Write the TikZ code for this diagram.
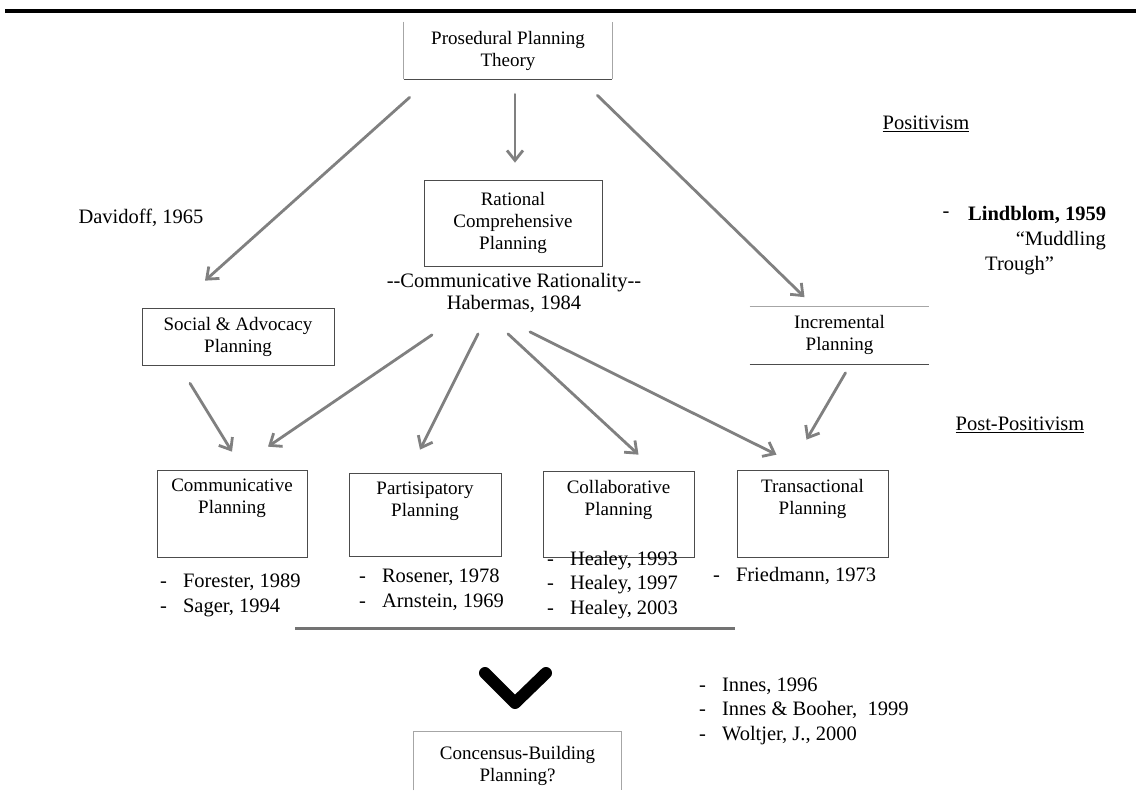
\documentclass[tikz,border=0pt]{standalone}
\usepackage{fontspec}
\setmainfont{Liberation Serif}
\usetikzlibrary{positioning,arrows.meta}

\newcommand{\boxfont}{\fontsize{19}{22}\selectfont}
\newcommand{\listfont}{\fontsize{20.5}{24.5}\selectfont}

\begin{document}
\begin{tikzpicture}[x=1pt,y=-1pt]

\tikzstyle{plbox}=[draw=black!70, line width=0.7pt, inner sep=0pt, align=center, font=\boxfont]
\tikzstyle{openbox}=[plbox, draw=none]
\tikzstyle{lowbox}=[plbox, minimum width=151pt, minimum height=87pt]
\tikzstyle{lowtext}=[anchor=north, inner sep=0pt, yshift=-9pt, align=center, font=\boxfont]
\tikzstyle{lightedge}=[draw=black!35, line width=0.7pt]
\tikzstyle{darkedge}=[draw=black!70, line width=0.7pt]
\tikzstyle{txt}=[inner sep=0pt, font=\listfont]
\tikzstyle{arr}=[draw=black!50, line width=2.8pt, line cap=round,
  -{Straight Barb[length=10pt,width=16pt]}]

\newcommand{\plbox}[3]{node (#1) [#2] {#3}}
\newcommand{\lowbox}[3]{node (#1) [lowbox, #2, label={[lowtext]north:#3}] {}}
\newcommand{\reflist}[1]{\begin{tabular}{@{}l@{\hspace{16pt}}l@{}}#1\end{tabular}}

\useasboundingbox (0,0) rectangle (1136,805);
\fill[white] (0,0) rectangle (1136,805);
\draw[line width=4pt] (5,11) -- (1136,11);

\path (508,50.5) \plbox{pros}{openbox, minimum width=208pt, minimum height=57pt}{Prosedural Planning\\Theory};
\path (513,223) \plbox{rat}{plbox, minimum width=178pt, minimum height=86pt}{Rational\\Comprehensive\\Planning};
\path (238,336.5) \plbox{social}{plbox, minimum width=192pt, minimum height=57pt}{Social \& Advocacy\\Planning};
\path (839.5,335) \plbox{inc}{openbox, minimum width=179pt, minimum height=57pt}{Incremental\\Planning};
\path (517.5,761) \plbox{cons}{openbox, minimum width=207pt, minimum height=58pt}{};

\draw[lightedge] (pros.north west) -- (pros.south west);
\draw[darkedge] (pros.south west) -- (pros.south east);
\draw[lightedge] (pros.south east) -- (pros.north east);
\draw[lightedge] (inc.north west) -- (inc.north east);
\draw[darkedge] (inc.south west) -- (inc.south east);
\draw[lightedge] (cons.south west) -- (cons.north west) -- (cons.north east) -- (cons.south east);
\node (consT) [lowtext, yshift=-5pt] at (cons.north) {Concensus-Building\\Planning?};

\path (232,513.5) \lowbox{comm}{minimum width=150pt}{Communicative\\Planning};
\path (425,514.5) \lowbox{part}{minimum width=152pt, minimum height=83pt}{Partisipatory\\Planning};
\path (618.5,514) \lowbox{coll}{minimum height=86pt}{Collaborative\\Planning};
\path (812.5,513.5) \lowbox{trans}{}{Transactional\\Planning};

\node (davi) [txt] at (141,218) {Davidoff, 1965};
\node (posi) [txt] at (926,124) {\underline{Positivism}};
\node (post) [txt] at (1020,425) {\underline{Post-Positivism}};
\node (rcom) [txt] at (514,283) {-{}-Communicative Rationality-{}-};
\node (hab) [txt] at (514,304) {Habermas, 1984};
\node (lindd) [txt] at (946,215) {-};
\node (lind) [txt, anchor=west] at (968,215) {\bfseries Lindblom, 1959};
\node (mudd) [txt, anchor=east] at (1106,241) {“Muddling};
\node (trou) [txt, anchor=west] at (985,266) {Trough”};

\node (forr) [txt, anchor=west] at (160,595) {\reflist{- & Forester, 1989\\ - & Sager, 1994}};
\node (rosr) [txt, anchor=west] at (359,590) {\reflist{- & Rosener, 1978\\ - & Arnstein, 1969}};
\node (heal) [txt, anchor=west] at (547,585) {\reflist{- & Healey, 1993\\ - & Healey, 1997\\ - & Healey, 2003}};
\node (frie) [txt, anchor=west] at (713,577) {\reflist{- & Friedmann, 1973}};
\node (inne) [txt, anchor=west] at (699,711) {\reflist{- & Innes, 1996\\ - & Innes \& Booher,\ \ 1999\\ - & Woltjer, J., 2000}};

\draw[arr] ([shift={(6,18)}]pros.south west) -- ([shift={(-33,-27)}]social.north);
\draw[arr] ([shift={(7,15)}]pros.south) -- ([shift={(2,-17)}]rat.north);
\draw[arr] ([shift={(-15,16)}]pros.south east) -- ([shift={(-35,-9)}]inc.north);

\draw[arr] ([shift={(-48,18)}]social.south) -- ([shift={(0,-18)}]comm.north);
\draw[arr] ([shift={(-82,22)}]hab.south) -- ([shift={(36,-23)}]comm.north);
\draw[arr] ([shift={(-36,21)}]hab.south) -- ([shift={(-5,-23)}]part.north);
\draw[arr] ([shift={(-6,21)}]hab.south) -- ([shift={(20,-16)}]coll.north);
\draw[arr] ([shift={(16,19)}]hab.south) -- ([shift={(-36,-15)}]trans.north);
\draw[arr] ([shift={(6,9)}]inc.south) -- ([shift={(-6,-30)}]trans.north);

\coordinate (barl) at (295,628);
\coordinate (barr) at (735,628);
\draw[draw=black!55, line width=3pt] (barl) -- (barr);

\coordinate (chl) at (485,673);
\coordinate (chm) at (515,703);
\coordinate (chr) at (546,673);
\draw[line width=12pt, line cap=round, line join=round] (chl) -- (chm) -- (chr);

\end{tikzpicture}
\end{document}
